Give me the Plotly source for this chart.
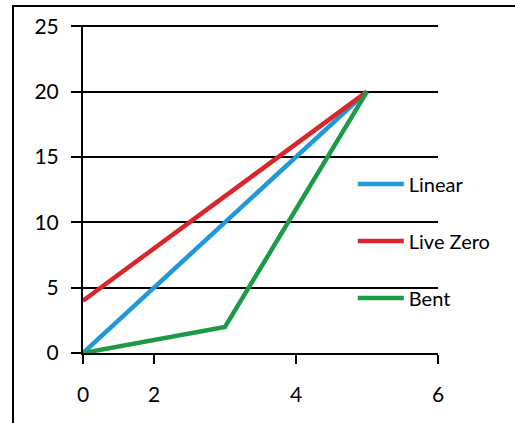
import plotly.graph_objects as go

# Axis positions (the labelled "0" sits at position 1 on this chart's axis)
x_linear = [1, 5]
y_linear = [0, 20]
x_livezero = [1, 5]
y_livezero = [4, 20]
x_bent = [1, 3, 5]
y_bent = [0, 2, 20]

x_tickvals = [1, 2, 4, 6]
x_ticktext = ["0", "2", "4", "6"]
y_tickvals = [0, 5, 10, 15, 20, 25]

series = [
    ("Linear", x_linear, y_linear, "#1e97db"),
    ("Live Zero", x_livezero, y_livezero, "#d9262a"),
    ("Bent", x_bent, y_bent, "#1d9a45"),
]

fig = go.Figure()
for name, xs, ys, col in series:
    fig.add_trace(go.Scatter(x=xs, y=ys, mode="lines", name=name,
                             legendgroup=name,
                             line=dict(color=col, width=4.5)))

font = "Lato"
fig.update_layout(
    width=515, height=423,
    margin=dict(l=83, r=77, t=25, b=70),
    paper_bgcolor="white", plot_bgcolor="white",
    font=dict(family=font, size=20, color="black"),
    showlegend=True,
    legend=dict(x=0.76, y=0.575, xanchor="left", yanchor="top",
                traceorder="grouped", tracegroupgap=28, itemwidth=46,
                bgcolor="rgba(0,0,0,0)", font=dict(size=20)),
    xaxis=dict(range=[1, 6], tickvals=x_tickvals, ticktext=x_ticktext,
               showgrid=False, zeroline=False, showline=True,
               linecolor="black", linewidth=2,
               ticks="outside", ticklen=9, tickwidth=2, tickcolor="black",
               ticklabelstandoff=13,
               tickfont=dict(size=21), fixedrange=True),
    yaxis=dict(range=[0, 25.1], tickvals=y_tickvals,
               showgrid=True, gridcolor="black", gridwidth=2,
               zeroline=False, showline=True,
               linecolor="black", linewidth=2,
               ticks="outside", ticklen=10, tickwidth=2, tickcolor="black",
               ticklabelstandoff=8,
               tickfont=dict(size=21), fixedrange=True),
    shapes=[dict(type="rect", xref="paper", yref="paper",
                 x0=(13 - 83) / 355, x1=(530 - 83) / 355,
                 y0=(353 - 440) / 328, y1=(353 - 6) / 328,
                 line=dict(color="black", width=2), layer="below")],
)

fig.write_html("out.html",
               config={"displayModeBar": False, "staticPlot": True},
               post_script="document.body.style.margin='0';")
